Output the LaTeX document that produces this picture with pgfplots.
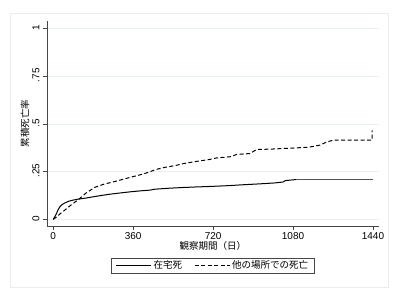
\documentclass[border=0pt]{standalone}
\usepackage{pgfplots}
\pgfplotsset{compat=1.18}
\usepackage{fontspec}
\setmainfont{Liberation Sans}
\newfontfamily\jp{Noto Sans CJK JP}
\definecolor{gridc}{RGB}{232,240,242}
\definecolor{framec}{RGB}{232,238,238}
\definecolor{axc}{RGB}{70,70,70}
\definecolor{bluel}{RGB}{60,90,130}
\begin{document}
\begin{tikzpicture}
\fill[white] (0pt,0pt) rectangle (400pt,300pt);
\draw[framec, line width=0.6pt] (10pt,13pt) rectangle (388pt,287pt);
\begin{axis}[
  at={(47pt,74pt)}, anchor=south west,
  scale only axis, width=332pt, height=205pt,
  xmin=-28, xmax=1467, ymin=-0.035, ymax=1.04,
  axis x line*=bottom, axis y line*=left,
  axis line style={axc, line width=0.6pt},
  xtick={0,360,720,1080,1440},
  ytick={0,0.25,0.5,0.75,1},
  yticklabels={0,.25,.5,.75,1},
  /pgf/number format/1000 sep={},
  tick align=outside, major tick length=4pt,
  tick style={axc, line width=0.6pt},
  ymajorgrids, grid style={gridc, line width=0.8pt},
  /pgf/number format/assume math mode=true,
  ticklabel style={font=\fontsize{10}{12}\selectfont},
  xticklabel style={yshift=1pt},
  yticklabel style={rotate=90, anchor=south, xshift=1pt},
  xlabel={\jp\fontsize{9.5}{11}\selectfont 観察期間（日）},
  ylabel={\jp\fontsize{9.5}{11}\selectfont 累積死亡率},
  xlabel style={yshift=5pt},
  ylabel style={yshift=-4pt},
  legend columns=2,
  legend style={at={(0.5,-0.193)}, anchor=center, draw=axc, line width=0.6pt,
    font=\jp\fontsize{9.5}{11}\selectfont, inner xsep=4pt, inner ysep=1pt,
    /tikz/every even column/.append style={column sep=10pt}},
  legend image code/.code={\draw[#1] (0pt,0pt) -- (35pt,0pt);},
]
\addplot[black, line width=1.0pt] coordinates {
(0,0) (8,0.015) (15,0.031) (22,0.05) (30,0.066) (40,0.078) (53,0.086) (70,0.095)
(90,0.101) (113,0.106) (150,0.112) (200,0.122) (250,0.131) (300,0.138) (353,0.145)
(400,0.150) (435,0.153) (458,0.158) (520,0.163) (586,0.167) (650,0.170) (720,0.173)
(796,0.177) (850,0.181) (931,0.186) (1000,0.191) (1036,0.196)
(1045,0.203) (1096,0.209)};
\addlegendentry{在宅死}
\addplot[black, line width=1.0pt, dash pattern=on 4pt off 2.5pt] coordinates {
(0,0) (15,0.012) (30,0.028) (53,0.049) (80,0.075) (113,0.103) (150,0.14) (188,0.168)
(230,0.185) (270,0.196) (308,0.208) (353,0.222) (400,0.236) (435,0.249) (458,0.26)
(500,0.272) (550,0.282) (586,0.292) (640,0.303) (700,0.313) (736,0.322) (796,0.328)
(826,0.340) (886,0.345) (916,0.366) (976,0.368) (1050,0.372) (1150,0.378)
(1201,0.389) (1230,0.405) (1261,0.415) (1436,0.415) (1436,0.467)};
\addlegendentry{他の場所での死亡}
\addplot[bluel, line width=1.0pt, forget plot] coordinates {(1096,0.209) (1440,0.209)};
\end{axis}
\useasboundingbox (0pt,0pt) rectangle (400pt,300pt);
\end{tikzpicture}
\end{document}
